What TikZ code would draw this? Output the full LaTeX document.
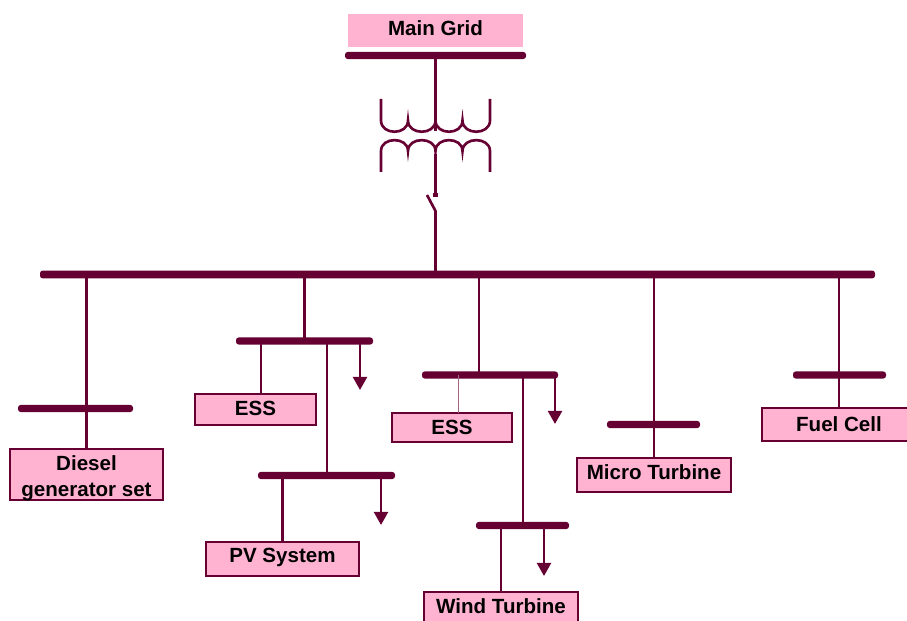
\documentclass[tikz,border=0pt]{standalone}
\usepackage{fontspec}
\setmainfont{Liberation Sans}
\usetikzlibrary{arrows.meta}
\definecolor{wire}{HTML}{660033}
\definecolor{boxpink}{HTML}{FFB3D1}

\begin{document}
\begin{tikzpicture}[x=0.02cm,y=-0.02cm,
	line/.style={color=wire,line width=1.5pt},
	load/.style={line,-{Triangle[length=7.5pt,width=8pt]}},
	bus/.style={fill=wire,rounded corners=1.5pt,inner sep=0pt,minimum height=4pt,minimum width=#1*0.02cm},
	lbl/.style={inner sep=0pt,align=center,font=\fontsize{11.7}{14.7}\selectfont\bfseries},
	box/.style={lbl,draw=wire,line width=1.6pt,fill=boxpink,minimum width=#1*0.02cm}]
	\useasboundingbox (0,0) rectangle (907,621);
	\node[box=175,draw=none,minimum height=33*0.02cm,text depth=2.3pt] (grid) at (435.5,30.5) {Main Grid};
	\node[bus=181] (gridbus) at (435.5,55.5) {};
	\node[bus=835,minimum height=4.4pt] (mainbus) at (457.5,274.5) {};
	
	%transformer and switch
	\coordinate (hvend) at (435.5,131);
	\coordinate (lvstart) at (435.5,154);
	\coordinate (swtop) at (435.5,195);
	\coordinate (swleft) at (427,195);
	\coordinate (swbot) at (435.5,211);
	\draw[line] (gridbus.center) -- (hvend);
	\draw[line] (381,99) -- (381,120.5)
	foreach \n in {408,435.5,462.5,490} { .. controls +(0,15) and +(0,15) .. (\n,120.5) } -- (490,99);
	\draw[line] (381,172) -- (381,151)
	foreach \n in {408,435.5,462.5,490} { .. controls +(0,-14.5) and +(0,-14.5) .. (\n,151) } -- (490,172);
	\draw[line] (lvstart) -- (swtop);
	\node[fill=wire,inner sep=0pt,minimum size=2.6pt] (swmark) at (swtop) {};
	\draw[line] (swleft) -- (swbot) -- (mainbus.center -| swbot);
	
	%diesel
	\node[bus=115] (dieselbus) at (75.5,408.5) {};
	\node[box=153,minimum height=51*0.02cm] (diesel) at (86.5,474.5) {};
	\node[lbl] (dieseltext) at (86.5,478.5) {Diesel\\generator set};
	\draw[line] (mainbus.center -| diesel) -- (diesel.north);
	
	%PV branch
	\node[bus=137] (essbusa) at (304.5,341) {};
	\node[bus=137] (pvbus) at (326.5,475.5) {};
	\node[box=121,minimum height=31*0.02cm,text depth=1.1pt] (essa) at (255.5,409.5) {ESS};
	\node[box=153,minimum height=34*0.02cm,text depth=4.7pt] (pv) at (282.5,559) {PV System};
	\coordinate (loada) at (360,390);
	\coordinate (loadb) at (381,525);
	\coordinate (tapa) at (327,341);
	\draw[line] (mainbus.center -| essbusa) -- (essbusa.center);
	\draw[line] (essbusa.center -| 261,0) -- (261,394);
	\draw[line] (tapa) -- (tapa |- pvbus);
	\draw[line] (pvbus.center -| pv) -- (pv.north);
	\draw[load] (essbusa.center -| loada) -- (loada);
	\draw[load] (pvbus.center -| loadb) -- (loadb);
	
	%wind branch
	\node[bus=136] (essbusb) at (490,375) {};
	\node[bus=93] (windbus) at (522.5,525.5) {};
	\node[box=120,minimum height=29*0.02cm] (essb) at (452,427.5) {ESS};
	\node[box=154,minimum height=33*0.02cm,text depth=2.3pt] (wind) at (501,608.5) {Wind Turbine};
	\coordinate (loadc) at (555,424);
	\coordinate (loadd) at (544,576);
	\coordinate (tapb) at (523,375);
	\draw[line] (mainbus.center -| 479,0) -- (479,375);
	\draw[color=wire!60,line width=0.5pt] (essbusb.center -| 458,0) -- (458,413);
	\draw[line] (tapb) -- (tapb |- windbus);
	\draw[line] (windbus.center -| wind) -- (wind.north);
	\draw[load] (essbusb.center -| loadc) -- (loadc);
	\draw[load] (windbus.center -| loadd) -- (loadd);
	
	%micro turbine
	\node[bus=93] (microbus) at (653.5,424.5) {};
	\node[box=154,minimum height=34*0.02cm,text depth=3.4pt] (micro) at (654,475) {Micro Turbine};
	\draw[line] (mainbus.center -| micro) -- (micro.north);
	
	%fuel cell
	\node[bus=93] (fuelbus) at (839.5,375) {};
	\node[box=154,minimum height=33*0.02cm] (fuel) at (839,424.5) {Fuel Cell};
	\draw[line] (mainbus.center -| fuel) -- (fuel.north);
\end{tikzpicture}
\end{document}
